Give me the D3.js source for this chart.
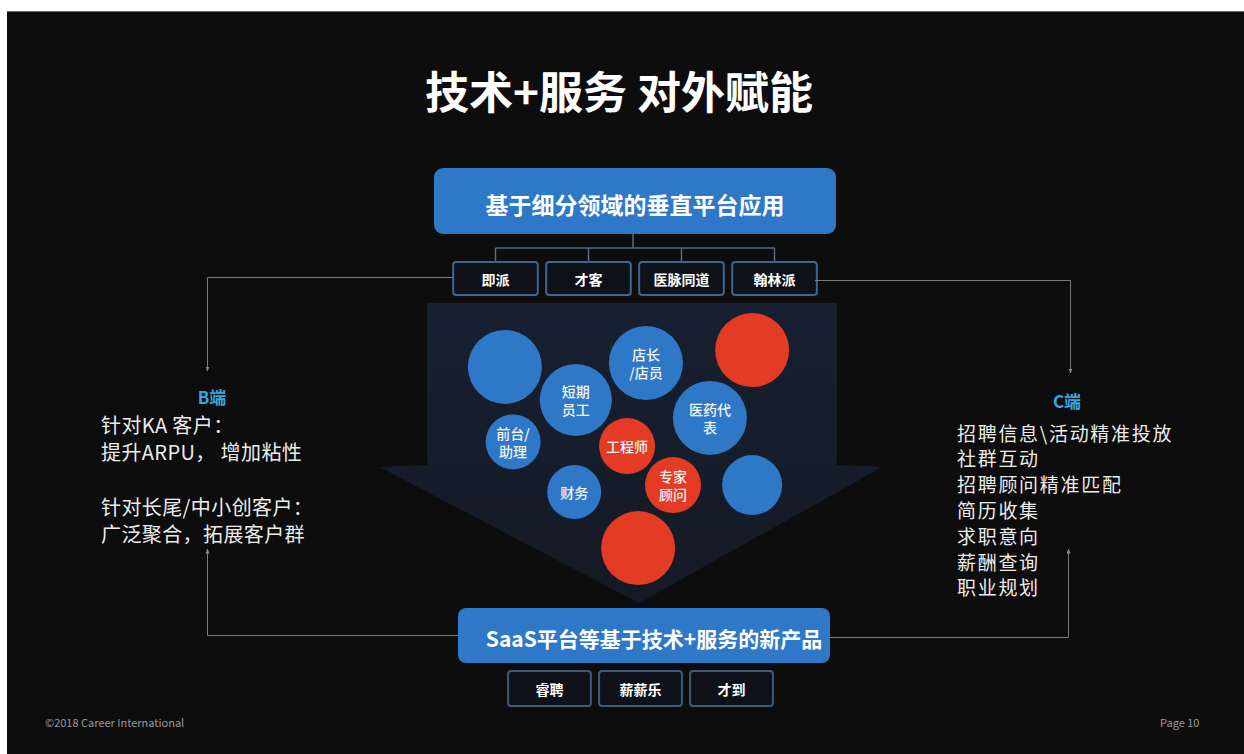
<!DOCTYPE html>
<html>
<head>
<meta charset="utf-8">
<script src="https://cdn.jsdelivr.net/npm/d3@7/dist/d3.min.js"></script>
<style>
  html, body { margin: 0; padding: 0; background: #ffffff; }
  svg { display: block; }
  text { font-family: "Noto Sans CJK SC", "Noto Sans", sans-serif; }
</style>
</head>
<body>
<svg id="chart" width="1244" height="754"></svg>
<script>
// ---------- data ----------
const titleText = "技术+服务 对外赋能";
const topPlatform = "基于细分领域的垂直平台应用";
const verticalApps = ["即派", "才客", "医脉同道", "翰林派"];
const saasPlatform = "SaaS平台等基于技术+服务的新产品";
const saasProducts = ["睿聘", "薪薪乐", "才到"];

const bubbleLabels = ["", "短期\n员工", "店长\n/店员", "", "医药代\n表", "前台/\n助理", "工程师", "财务", "专家\n顾问", "", ""];
const bubbleGroups = ["blue", "blue", "blue", "red", "blue", "blue", "red", "blue", "red", "blue", "red"];
const bubbleX = [19.0, 36.3, 53.4, 79.3, 69.0, 21.0, 48.8, 35.9, 60.0, 79.3, 51.5];
const bubbleY = [21.3, 32.3, 20.0, 15.7, 38.3, 46.3, 47.7, 63.0, 60.7, 60.7, 81.7];
const bubbleSize = [37, 36, 37, 37, 37, 27.5, 28, 27, 28, 30, 37];

const bSideTitle = "B端";
const bSideLines = ["针对KA 客户：", "提升ARPU， 增加粘性", "", "针对长尾/中小创客户：", "广泛聚合，拓展客户群"];
const cSideTitle = "C端";
const cSideLines = ["招聘信息\\活动精准投放", "社群互动", "招聘顾问精准匹配", "简历收集", "求职意向", "薪酬查询", "职业规划"];

const footerLeft = "©2018 Career International";
const footerRight = "Page 10";

// ---------- drawing ----------
const W = 1244, H = 754;
const svg = d3.select("#chart");
const BLUE = "#2f78c8", RED = "#e43b25";
const color = d3.scaleOrdinal().domain(["blue", "red"]).range([BLUE, RED]);

// background
svg.append("rect").attr("x", 0).attr("y", 0).attr("width", W).attr("height", H).attr("fill", "#ffffff");
svg.append("rect").attr("x", 7).attr("y", 11).attr("width", W - 7).attr("height", H - 11).attr("fill", "#0d0d0d");
svg.append("line").attr("x1", 7).attr("x2", W).attr("y1", 11.5).attr("y2", 11.5).attr("stroke", "#6a6a6a").attr("stroke-width", 1);

// markers
const defs = svg.append("defs");
defs.append("marker").attr("id", "arr").attr("viewBox", "0 0 10 10").attr("refX", 9).attr("refY", 5)
  .attr("markerWidth", 5).attr("markerHeight", 5).attr("orient", "auto")
  .append("path").attr("d", "M0,1 L10,5 L0,9 Z").attr("fill", "#8a8a8a");
const grad = defs.append("linearGradient").attr("id", "funnelGrad").attr("x1", 0).attr("y1", 0).attr("x2", 0).attr("y2", 1);
grad.append("stop").attr("offset", "0%").attr("stop-color", "#172030");
grad.append("stop").attr("offset", "100%").attr("stop-color", "#141a25");

// title
svg.append("text").attr("x", 619).attr("y", 90).attr("text-anchor", "middle").attr("dominant-baseline", "central")
  .attr("fill", "#ffffff").attr("font-size", 44).attr("font-weight", "bold").text(titleText);

// funnel arrow
const fx = d3.scaleLinear().domain([0, 100]).range([427, 837]);
const fy = d3.scaleLinear().domain([0, 100]).range([303, 603]);
const arrowPts = [[0, 0], [100, 0], [100, 54], [111, 54.7], [51.7, 100], [-11.5, 54.7], [0, 54]];
svg.append("path")
  .attr("d", d3.line().x(d => fx(d[0])).y(d => fy(d[1]))(arrowPts) + "Z")
  .attr("fill", "url(#funnelGrad)");

// top platform box
svg.append("rect").attr("x", 434).attr("y", 168).attr("width", 402).attr("height", 66).attr("rx", 9)
  .attr("fill", BLUE);
svg.append("text").attr("x", 635).attr("y", 204).attr("text-anchor", "middle").attr("dominant-baseline", "central")
  .attr("fill", "#ffffff").attr("font-size", 23).attr("font-weight", "bold").text(topPlatform);

// app boxes
const appX = d3.scaleBand().domain(verticalApps).range([449, 821]).paddingInner(0.09).paddingOuter(0.045);
const connColor = "#566b86";
svg.append("line").attr("x1", 633).attr("x2", 633).attr("y1", 234).attr("y2", 248).attr("stroke", connColor).attr("stroke-width", 1.5);
svg.append("line").attr("x1", appX(verticalApps[0]) + appX.bandwidth() / 2).attr("x2", appX(verticalApps[3]) + appX.bandwidth() / 2)
  .attr("y1", 248).attr("y2", 248).attr("stroke", connColor).attr("stroke-width", 1.5);
const apps = svg.append("g").selectAll("g").data(verticalApps).join("g");
apps.append("line").attr("x1", d => appX(d) + appX.bandwidth() / 2).attr("x2", d => appX(d) + appX.bandwidth() / 2)
  .attr("y1", 248).attr("y2", 262).attr("stroke", connColor).attr("stroke-width", 1.5);
apps.append("rect").attr("x", d => appX(d)).attr("y", 262).attr("width", appX.bandwidth()).attr("height", 33).attr("rx", 3)
  .attr("fill", "#0e1118").attr("stroke", "#3d6596").attr("stroke-width", 2);
apps.append("text").attr("x", d => appX(d) + appX.bandwidth() / 2).attr("y", 279).attr("text-anchor", "middle")
  .attr("dominant-baseline", "central").attr("fill", "#ffffff").attr("font-size", 14).attr("font-weight", "bold").text(d => d);

// side connector lines
const lineColor = "#7a7a7a";
const sideLine = (pts, marker) => {
  svg.append("path").attr("d", d3.line()(pts)).attr("fill", "none").attr("stroke", lineColor).attr("stroke-width", 1)
    .attr("marker-end", marker ? "url(#arr)" : null);
};
sideLine([[453, 277.5], [207.5, 277.5], [207.5, 371]], true);
sideLine([[815, 280.5], [1070.5, 280.5], [1070.5, 373]], true);
sideLine([[458, 635.5], [207.5, 635.5], [207.5, 549]], true);
sideLine([[830, 637.5], [1068.5, 637.5], [1068.5, 549]], true);

// bubbles
const bubbles = svg.append("g").selectAll("g").data(bubbleLabels.map((l, i) => ({
  label: l, group: bubbleGroups[i], x: bubbleX[i], y: bubbleY[i], r: bubbleSize[i]
}))).join("g").attr("transform", d => `translate(${fx(d.x)},${fy(d.y)})`);
bubbles.append("circle").attr("r", d => d.r).attr("fill", d => color(d.group));
bubbles.each(function (d) {
  const lines = d.label ? d.label.split("\n") : [];
  const t = d3.select(this).append("text").attr("text-anchor", "middle").attr("fill", "#f4f4f4")
    .attr("font-size", 14).attr("font-weight", 500).attr("dominant-baseline", "central");
  lines.forEach((ln, j) => {
    t.append("tspan").attr("x", 0).attr("y", (j - (lines.length - 1) / 2) * 18).text(ln);
  });
});

// bottom SaaS box
svg.append("rect").attr("x", 458).attr("y", 608).attr("width", 372).attr("height", 55).attr("rx", 8).attr("fill", BLUE);
svg.append("text").attr("x", 654).attr("y", 638).attr("text-anchor", "middle").attr("dominant-baseline", "central")
  .attr("fill", "#ffffff").attr("font-size", 21).attr("font-weight", "bold").text(saasPlatform);

const prodX = d3.scaleBand().domain(saasProducts).range([504, 777]).paddingInner(0.09).paddingOuter(0.045);
const prods = svg.append("g").selectAll("g").data(saasProducts).join("g");
prods.append("rect").attr("x", d => prodX(d)).attr("y", 671).attr("width", prodX.bandwidth()).attr("height", 35).attr("rx", 3)
  .attr("fill", "#0e1118").attr("stroke", "#3d5a7e").attr("stroke-width", 2);
prods.append("text").attr("x", d => prodX(d) + prodX.bandwidth() / 2).attr("y", 689).attr("text-anchor", "middle")
  .attr("dominant-baseline", "central").attr("fill", "#ffffff").attr("font-size", 14).attr("font-weight", "bold").text(d => d);

// side texts
const sideBlue = "#38a6e0";
svg.append("text").attr("x", 212).attr("y", 396).attr("text-anchor", "middle").attr("dominant-baseline", "central")
  .attr("fill", sideBlue).attr("font-size", 17).attr("font-weight", "bold").text(bSideTitle);
const bY = d3.scaleLinear().domain([0, 1]).range([424, 451]);
svg.append("g").selectAll("text").data(bSideLines).join("text")
  .attr("x", 101).attr("y", (d, i) => bY(i) + (i >= 3 ? 1 : 0)).attr("dominant-baseline", "central")
  .attr("fill", "#ececec").attr("font-size", 20).attr("letter-spacing", 0.4).text(d => d);

svg.append("text").attr("x", 1067).attr("y", 400).attr("text-anchor", "middle").attr("dominant-baseline", "central")
  .attr("fill", sideBlue).attr("font-size", 17).attr("font-weight", "bold").text(cSideTitle);
const cY = d3.scaleLinear().domain([0, 1]).range([432, 457.8]);
svg.append("g").selectAll("text").data(cSideLines).join("text")
  .attr("x", 957).attr("y", (d, i) => cY(i)).attr("dominant-baseline", "central")
  .attr("fill", "#ececec").attr("font-size", 19).attr("letter-spacing", 1.7).text(d => d);

// footer
svg.append("text").attr("x", 45).attr("y", 722).attr("dominant-baseline", "central").attr("fill", "#9a9a9a")
  .attr("font-size", 11).attr("font-family", "Liberation Sans, Arial, sans-serif").text(footerLeft);
svg.append("text").attr("x", 1160).attr("y", 722).attr("dominant-baseline", "central").attr("fill", "#9a9a9a")
  .attr("font-size", 11).attr("font-family", "Liberation Sans, Arial, sans-serif").text(footerRight);
</script>
</body>
</html>
